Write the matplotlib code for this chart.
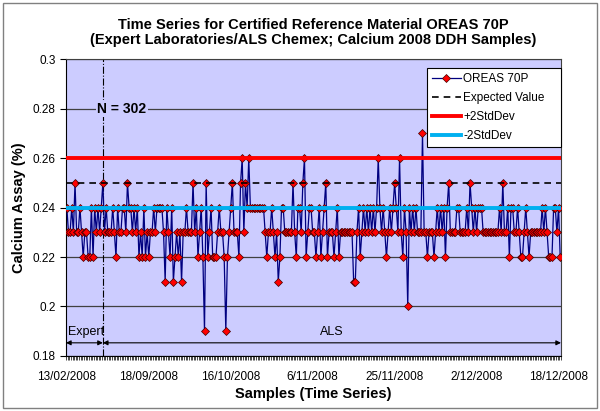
import matplotlib.pyplot as plt
from matplotlib.patches import Rectangle

plt.rcParams['font.family'] = ['Liberation Sans', 'DejaVu Sans']

# Calcium assays (%) for OREAS 70P, in sample order (302 samples)
assays = [
    0.24, 0.23, 0.23, 0.24, 0.23, 0.25, 0.23, 0.23, 0.24, 0.23, 0.22, 0.23, 0.23, 0.22, 0.22, 0.24, 0.22, 0.24, 0.23, 0.24,
    0.23, 0.24, 0.25, 0.23, 0.24, 0.23, 0.23, 0.23, 0.24, 0.23, 0.22, 0.24, 0.23, 0.23, 0.24, 0.24, 0.23, 0.25, 0.24, 0.24,
    0.23, 0.24, 0.23, 0.24, 0.22, 0.23, 0.22, 0.24, 0.22, 0.23, 0.22, 0.23, 0.23, 0.24, 0.23, 0.24, 0.24, 0.24, 0.24, 0.23,
    0.21, 0.24, 0.23, 0.22, 0.24, 0.21, 0.22, 0.23, 0.22, 0.23, 0.21, 0.23, 0.23, 0.24, 0.23, 0.23, 0.23, 0.25, 0.23, 0.24,
    0.22, 0.23, 0.24, 0.22, 0.19, 0.25, 0.22, 0.23, 0.24, 0.22, 0.22, 0.22, 0.23, 0.24, 0.23, 0.23, 0.22, 0.19, 0.22, 0.23,
    0.24, 0.25, 0.23, 0.23, 0.23, 0.22, 0.25, 0.26, 0.23, 0.25, 0.24, 0.26, 0.24, 0.24, 0.24, 0.24, 0.24, 0.24, 0.24, 0.24,
    0.24, 0.23, 0.22, 0.23, 0.23, 0.24, 0.23, 0.22, 0.23, 0.21, 0.22, 0.24, 0.24, 0.23, 0.23, 0.23, 0.23, 0.23, 0.25, 0.23,
    0.22, 0.24, 0.24, 0.23, 0.25, 0.26, 0.22, 0.23, 0.24, 0.24, 0.23, 0.23, 0.22, 0.23, 0.24, 0.22, 0.23, 0.24, 0.25, 0.22,
    0.23, 0.23, 0.23, 0.22, 0.23, 0.24, 0.22, 0.23, 0.23, 0.23, 0.23, 0.23, 0.23, 0.23, 0.23, 0.21, 0.21, 0.23, 0.24, 0.22,
    0.23, 0.24, 0.23, 0.24, 0.23, 0.24, 0.23, 0.24, 0.23, 0.24, 0.26, 0.24, 0.23, 0.24, 0.23, 0.22, 0.23, 0.24, 0.23, 0.24,
    0.25, 0.24, 0.23, 0.26, 0.23, 0.22, 0.24, 0.23, 0.20, 0.24, 0.23, 0.24, 0.23, 0.24, 0.23, 0.23, 0.23, 0.27, 0.23, 0.23,
    0.22, 0.23, 0.23, 0.23, 0.22, 0.23, 0.24, 0.23, 0.24, 0.23, 0.24, 0.22, 0.24, 0.25, 0.23, 0.23, 0.23, 0.23, 0.24, 0.24,
    0.23, 0.23, 0.23, 0.23, 0.24, 0.23, 0.25, 0.24, 0.23, 0.24, 0.23, 0.24, 0.24, 0.24, 0.23, 0.23, 0.23, 0.23, 0.23, 0.23,
    0.23, 0.23, 0.23, 0.23, 0.24, 0.23, 0.25, 0.23, 0.23, 0.24, 0.22, 0.24, 0.24, 0.23, 0.23, 0.24, 0.23, 0.22, 0.22, 0.23,
    0.24, 0.23, 0.22, 0.23, 0.23, 0.23, 0.23, 0.23, 0.23, 0.23, 0.24, 0.23, 0.24, 0.23, 0.22, 0.22, 0.22, 0.24, 0.24, 0.23,
    0.24, 0.22,
]
date_labels = ['13/02/2008', '18/09/2008', '16/10/2008', '6/11/2008',
               '25/11/2008', '2/12/2008', '18/12/2008']
label_every = 50
expected = 0.25
plus_2sd = 0.26
minus_2sd = 0.24
n_expert = 22  # samples assayed by Expert Laboratories, rest by ALS

n = len(assays)
x = [i + 0.5 for i in range(n)]

fig = plt.figure(figsize=(6, 4.11), dpi=100)
ax = fig.add_axes([0.11, 0.134, 0.825, 0.722])
ax.set_facecolor('#CCCCFF')

ax.plot(x, assays, color='#000080', lw=0.9, marker='D', ms=4.3,
        mfc='#FF0000', mec='#400000', mew=0.5, label='OREAS 70P', zorder=3)
ax.axhline(expected, color='black', lw=1.2, ls=(0, (4, 3)), label='Expected Value', zorder=4)
ax.axhline(plus_2sd, color='#FF0000', lw=2.8, label='+2StdDev', zorder=4)
ax.axhline(minus_2sd, color='#00B0F0', lw=2.8, label='-2StdDev', zorder=4)

ax.set_xlim(0, n)
ax.set_ylim(0.18, 0.3)
ax.set_yticks([0.18, 0.2, 0.22, 0.24, 0.26, 0.28, 0.3])
ax.yaxis.set_major_formatter(plt.FuncFormatter(lambda v, p: f'{v:g}'))
ax.grid(axis='y', color='#404040', lw=0.9, zorder=1)
ax.set_axisbelow(True)

ticks = list(range(0, n, label_every))
ax.set_xticks([t + 0.5 for t in ticks])
ax.set_xticklabels(date_labels[:len(ticks)])
ax.set_xticks(range(0, n + 1), minor=True)
ax.tick_params(axis='x', which='major', length=0, labelsize=8.5, pad=11)
ax.tick_params(axis='x', which='minor', length=3, width=0.5, direction='out')
ax.tick_params(axis='y', length=4, labelsize=8.5)
for s in ax.spines.values():
    s.set_color('#404040')
ax.spines['left'].set_color('black')
ax.spines['bottom'].set_color('black')

ax.set_xlabel('Samples (Time Series)', fontsize=10.5, fontweight='bold', labelpad=3)
ax.set_ylabel('Calcium Assay (%)', fontsize=10.5, fontweight='bold', labelpad=5)
ax.set_title('Time Series for Certified Reference Material OREAS 70P\n'
             '(Expert Laboratories/ALS Chemex; Calcium 2008 DDH Samples)',
             fontsize=10.5, fontweight='bold', pad=11, linespacing=1.1)

# lab split
ax.axvline(n_expert + 0.5, color='black', lw=0.8, ls='-.', zorder=2)
arrow_y = 0.1853
ax.annotate('', xy=(0, arrow_y), xytext=(n_expert + 0.5, arrow_y),
            arrowprops=dict(arrowstyle='<|-|>', color='black', lw=0.8,
                            mutation_scale=7, shrinkA=0, shrinkB=0))
ax.annotate('', xy=(n_expert + 0.5, arrow_y), xytext=(n, arrow_y),
            arrowprops=dict(arrowstyle='<|-|>', color='black', lw=0.8,
                            mutation_scale=7, shrinkA=0, shrinkB=0))
ax.text(1.5, 0.1895, 'Expert', fontsize=9, va='center', ha='left')
ax.text(162, 0.1895, 'ALS', fontsize=9, va='center', ha='center')
ax.text(34, 0.28, f'N = {n}', fontsize=10, fontweight='bold', ha='center', va='center',
        bbox=dict(facecolor='#CCCCFF', edgecolor='none', pad=1), zorder=5)

leg = ax.legend(loc='upper left', bbox_to_anchor=(0.729, 0.5, 0.271, 0.4697),
                mode='expand', fontsize=8.5, fancybox=False, framealpha=1,
                edgecolor='black', borderpad=0.4, labelspacing=0.6,
                handlelength=2.5, handletextpad=0.2, borderaxespad=0)
leg.get_frame().set_linewidth(0.8)
leg.set_zorder(6)

fig.patches.append(Rectangle((0.005, 0.007), 0.99, 0.986, transform=fig.transFigure,
                             fill=False, edgecolor='#808080', lw=1))

fig.savefig('out.png', dpi=100)
